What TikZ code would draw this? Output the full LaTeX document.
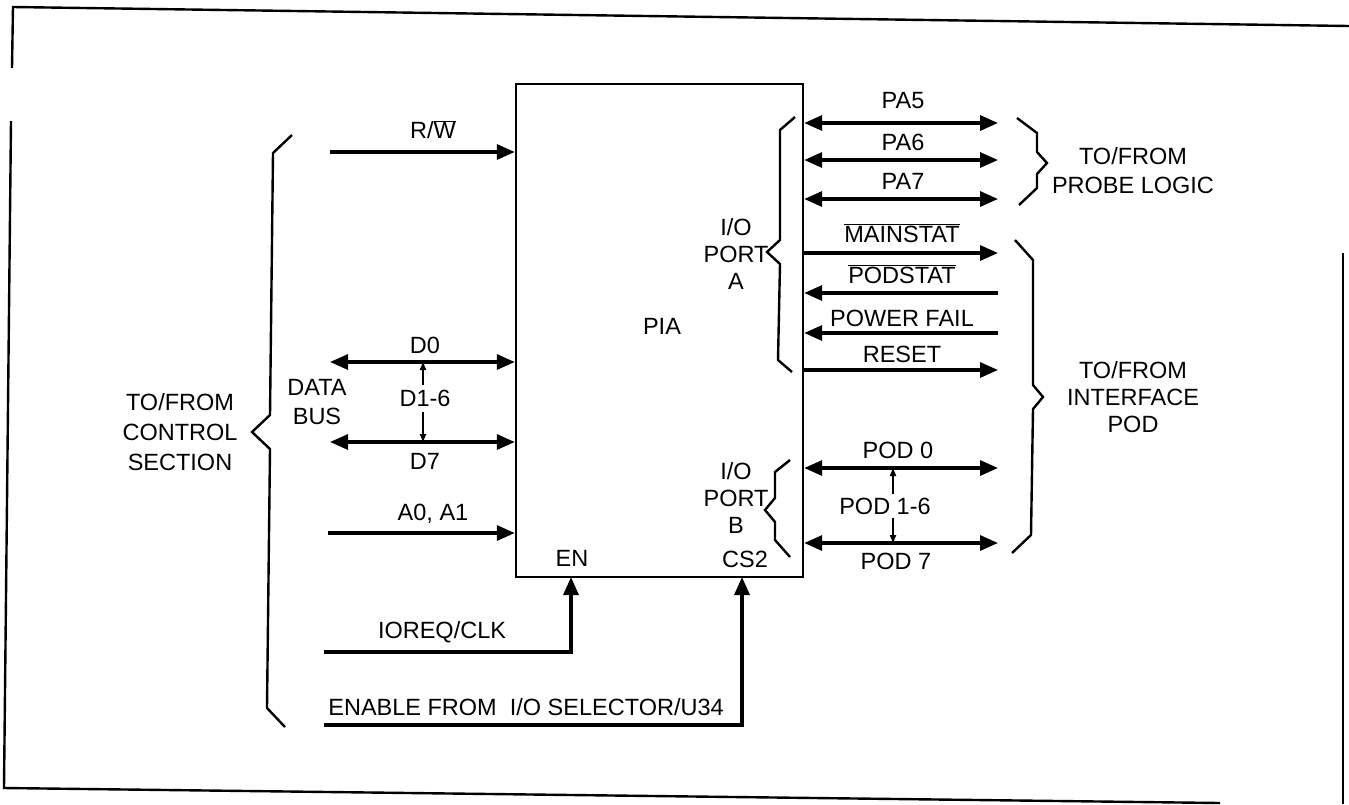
\documentclass[tikz,border=0pt]{standalone}
\usepackage{fontspec}
\setmainfont{Liberation Sans}
\usetikzlibrary{arrows.meta}
\newcommand\ovl[1]{\ensuremath{\overline{\hbox{#1}}}}
\begin{document}
\begin{tikzpicture}[x=1pt,y=-1pt,
  sig/.style={line width=3.2pt},
  tip/.style={-{Triangle[length=18pt,width=15pt]}},
  both/.style={{Triangle[length=18pt,width=15pt]}-{Triangle[length=18pt,width=15pt]}},
  small/.style={line width=2pt,-{Triangle[length=8pt,width=6pt]}},
  brace/.style={line width=2.4pt,line join=miter},
  lbl/.style={font=\fontsize{23.5}{28}\selectfont, inner sep=0pt, align=center},
  frame/.style={line width=2.4pt}]
\useasboundingbox (0,0) rectangle (1349,804);

% frame
\draw[frame] (12,68) -- (13,7) -- (1349,26);
\draw[frame] (11,121) -- (4,788) -- (1220,803);
\draw[frame] (1343,253) -- (1343,804);

% PIA box
\node[draw, line width=2.4pt, minimum width=287pt, minimum height=493pt, inner sep=0pt] (pia) at (659.5,330.5) {};
\node[lbl] (pialbl) at (662,326) {PIA};

% left signals
\coordinate (rwS) at (330,152);
\draw[sig,tip] (rwS) -- (rwS -| pia.west);
\node[lbl] (rwl) at (433,130) {R/\ovl{W}};

\coordinate (d0S) at (330,362);
\coordinate (d7S) at (330,442);
\draw[sig,both] (d0S) -- (d0S -| pia.west);
\draw[sig,both] (d7S) -- (d7S -| pia.west);
\node[lbl] (d0l) at (425,345) {D0};
\node[lbl] (d16) at (425,398) {D1-6};
\node[lbl] (d7l) at (425,461) {D7};
\coordinate (d16u) at (423,385);
\coordinate (d16d) at (423,412);
\draw[small] (d16u) -- (d16u |- d0S);
\draw[small] (d16d) -- (d16d |- d7S);
\node[lbl,font=\fontsize{23.5}{29}\selectfont] (db) at (317,402) {DATA\\BUS};

\coordinate (aS) at (328,533);
\draw[sig,tip] (aS) -- (aS -| pia.west);
\node[lbl] (al) at (433,514) {A0, A1};

\coordinate (ioS) at (324,652);
\coordinate (enP) at (571,577);
\draw[sig,tip] (ioS) -| (enP);
\node[lbl] (iol) at (442,632) {IOREQ/CLK};
\node[lbl] (enl) at (572,558) {EN};

\coordinate (enaS) at (324,725);
\coordinate (csP) at (742,577);
\draw[sig,tip] (enaS) -| (csP);
\node[lbl] (enal) at (526,707) {ENABLE FROM\ \ I/O SELECTOR/U34};
\node[lbl] (csl) at (745,559) {CS2};

% left brace
\draw[brace] (292,135) -- (273,153) -- (270,415) -- (252,432) -- (270,449) -- (267,708) -- (285,727);
\node[lbl,font=\fontsize{23.5}{30}\selectfont] (ctl) at (180,432) {TO/FROM\\CONTROL\\SECTION};

% right signals
\coordinate (pa5E) at (998,123);
\coordinate (pa6E) at (998,160);
\coordinate (pa7E) at (998,199);
\coordinate (mainE) at (998,253);
\coordinate (podsE) at (998,293);
\coordinate (pfE) at (998,333);
\coordinate (rstE) at (998,370);
\coordinate (p0E) at (998,468);
\coordinate (p7E) at (998,543);
\draw[sig,both] (pa5E -| pia.east) -- (pa5E);
\draw[sig,both] (pa6E -| pia.east) -- (pa6E);
\draw[sig,both] (pa7E -| pia.east) -- (pa7E);
\draw[sig,tip] (mainE -| pia.east) -- (mainE);
\draw[sig,tip] (podsE) -- (podsE -| pia.east);
\draw[sig,tip] (pfE) -- (pfE -| pia.east);
\draw[sig,tip] (rstE -| pia.east) -- (rstE);
\draw[sig,both] (p0E -| pia.east) -- (p0E);
\draw[sig,both] (p7E -| pia.east) -- (p7E);

\node[lbl] (pa5l) at (903,101) {PA5};
\node[lbl] (pa6l) at (903,142) {PA6};
\node[lbl] (pa7l) at (903,181) {PA7};
\node[lbl] (mainl) at (902,233) {\ovl{MAINSTAT}};
\node[lbl] (podsl) at (902,274) {\ovl{PODSTAT}};
\node[lbl] (pfl) at (902,318) {POWER FAIL};
\node[lbl] (rstl) at (902,354) {RESET};
\node[lbl] (p0l) at (898,450) {POD 0};
\node[lbl] (p16l) at (885,506) {POD 1-6};
\node[lbl] (p7l) at (896,561) {POD 7};
\coordinate (p16u) at (893,494);
\coordinate (p16d) at (893,518);
\draw[small] (p16u) -- (p16u |- p0E);
\draw[small] (p16d) -- (p16d |- p7E);

% port braces
\draw[brace] (795,117) -- (780,130) -- (780,240) -- (767,252) -- (780,264) -- (778,360) -- (792,372);
\node[lbl,font=\fontsize{23.5}{27}\selectfont] (pal) at (736,254) {I/O\\PORT\\A};
\draw[brace] (790,460) -- (775,472) -- (775,498) -- (765,510) -- (775,522) -- (775,540) -- (790,557);
\node[lbl,font=\fontsize{23.5}{27}\selectfont] (pbl) at (736,498) {I/O\\PORT\\B};

% right braces
\draw[brace] (1017,118) -- (1037,133) -- (1037,152) -- (1047,163) -- (1037,174) -- (1037,188) -- (1019,205);
\node[lbl,font=\fontsize{23.5}{29}\selectfont] (probe) at (1133,171) {TO/FROM\\PROBE LOGIC};
\draw[brace] (1015,240) -- (1033,260) -- (1033,385) -- (1043,397) -- (1033,409) -- (1031,535) -- (1012,553);
\node[lbl,font=\fontsize{23.5}{27}\selectfont] (ifp) at (1133,397) {TO/FROM\\INTERFACE\\POD};
\end{tikzpicture}
\end{document}
